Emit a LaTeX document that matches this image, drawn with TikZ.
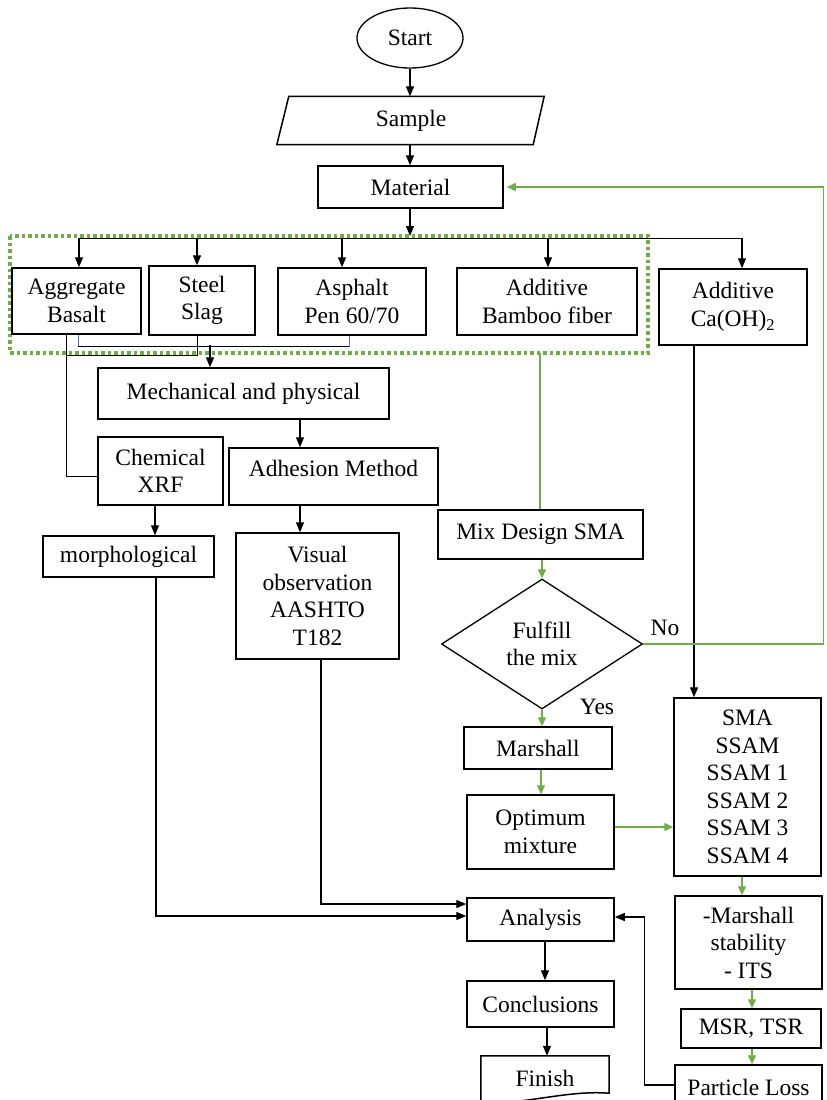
\documentclass[tikz,border=0pt]{standalone}
\usepackage{fontspec}
\setmainfont{Liberation Serif}
\usetikzlibrary{arrows.meta,shapes.geometric,calc}
\definecolor{xgreen}{HTML}{70AD47}
\definecolor{xblue}{HTML}{4472C4}
\begin{document}
\begin{tikzpicture}[x=1pt,y=-1pt,
 every node/.style={font=\fontsize{23.5}{27.5}\selectfont},
 box/.style={draw,line width=1.5pt,inner sep=0pt,align=center,anchor=center},
 conn/.style={line width=1.3pt,-{Triangle[length=10pt,width=8pt]}},
 gconn/.style={xgreen,line width=1.3pt,-{Triangle[length=9pt,width=8pt]}},
 gline/.style={xgreen,line width=1.2pt},
 thinl/.style={line width=0.9pt},
]
\useasboundingbox (0,0) rectangle (827,1100);

% group frame
\draw[xgreen,line width=3.5pt,dash pattern=on 3.5pt off 3pt] (10,236) rectangle (648,353);

% nodes
\node[draw,ellipse,line width=1.3pt,minimum width=106pt,minimum height=60pt,inner sep=0pt] (start) at (410,38) {Start};
\node[inner sep=0pt,minimum width=256pt,minimum height=48pt] (sample) at (411,120.5) {Sample};
\draw[line width=1.5pt] ($(sample.north west)+(6,0)$) -- ($(sample.north east)+(5,0)$) -- ($(sample.south east)+(-6,0)$) -- ($(sample.south west)+(-6,0)$) -- cycle;
\node[box,minimum width=185pt,minimum height=42pt] (material) at (410.5,187) {Material};

\node[box,minimum width=129pt,minimum height=66pt] (agg) at (76.5,301) {Aggregate\\Basalt};
\node[box,minimum width=106pt,minimum height=69pt] (steel) at (202,300.5) {Steel\\Slag};
\node[box,minimum width=148pt,minimum height=67pt] (asphalt) at (352,301.5) {Asphalt\\Pen 60/70};
\node[box,minimum width=180pt,minimum height=67pt] (bamboo) at (547,301.5) {Additive\\Bamboo fiber};
\node[box,minimum width=148pt,minimum height=76pt] (caoh) at (733,307) {Additive\\Ca(OH)\textsubscript{2}};

\node[box,minimum width=291pt,minimum height=51pt] (mech) at (243.5,393.5) {Mechanical and physical};
\node[box,minimum width=125pt,minimum height=68pt] (chem) at (160.5,471) {Chemical\\XRF};
\node[box,minimum width=209pt,minimum height=57pt,text height=16pt,text depth=16pt] (adh) at (333.5,476.5) {Adhesion Method};
\node[box,minimum width=171pt,minimum height=41pt] (morph) at (128.5,556.5) {morphological};
\node[box,minimum width=163pt,minimum height=126pt] (visual) at (317.5,596) {Visual\\observation\\AASHTO\\T182};

\node[box,minimum width=205pt,minimum height=49pt] (mix) at (540.5,534.5) {Mix Design SMA};
\node[draw,diamond,line width=1.3pt,minimum width=201pt,minimum height=130pt,inner sep=0pt,align=center,aspect=1.55] (dec) at (542,644) {Fulfill\\the mix};
\node (no) at (665,628) {No};
\node (yes) at (597,707) {Yes};
\node[box,minimum width=148pt,minimum height=42pt] (marshall) at (538,748) {Marshall};
\node[box,minimum width=147pt,minimum height=74pt] (optimum) at (540.5,832) {Optimum\\mixture};
\node[box,minimum width=147pt,minimum height=178pt] (sma) at (747.5,787) {SMA\\SSAM\\SSAM 1\\SSAM 2\\SSAM 3\\SSAM 4};
\node[box,minimum width=147pt,minimum height=93pt] (marshstab) at (748.5,942.5) {-Marshall\\stability\\- ITS};
\node[box,minimum width=140pt,minimum height=39pt] (msr) at (751,1028.5) {MSR, TSR};
\node[box,minimum width=147pt,minimum height=45pt] (particle) at (748.5,1087.5) {Particle Loss};

\node[box,minimum width=147pt,minimum height=43pt] (analysis) at (540.5,919.5) {Analysis};
\node[box,minimum width=147pt,minimum height=46pt] (concl) at (540.5,1004) {Conclusions};
\node[inner sep=0pt,minimum width=128pt,minimum height=44pt] (finish) at (545,1078) {Finish};
\draw[line width=1.5pt] ($(finish.south west)+(0,4)$) -- (finish.north west) -- (finish.north east) -- ($(finish.south east)+(0,-7)$) .. controls ($(finish.south east)+(-40,-10)$) and ($(finish.south)+(-10,2)$) .. ($(finish.south west)+(0,4)$);

% black connectors
\draw[conn] (start) -- (start |- sample.north);
\draw[conn] ($(sample.south)+(-1,0)$) -- ($(material.north)+(-0.5,0)$);
\coordinate (busin) at (410,236);
\draw[conn] ($(material.south)+(-0.5,0)$) -- (busin);
\draw[line width=1.3pt] ($(agg.north)+(2.5,-29)$) -- ($(caoh.north)+(9,-30)$);
\draw[conn] ($(agg.north)+(2.5,-29)$) -- ($(agg.north)+(2.5,0)$);
\draw[conn] ($(steel.north)+(-5,-27)$) -- ($(steel.north)+(-5,0)$);
\draw[conn] ($(asphalt.north)+(-10,-29)$) -- ($(asphalt.north)+(-10,0)$);
\draw[conn] ($(bamboo.north)+(1,-29)$) -- ($(bamboo.north)+(1,0)$);
\draw[conn] ($(caoh.north)+(9,-30)$) -- ($(caoh.north)+(9,0)$);

\draw[thinl] ($(agg.south)+(-10.5,0)$) |- ($(chem.west)+(0,5)$);
\draw[xblue,thinl] ($(agg.south)+(1.5,0)$) -- ($(agg.south)+(1.5,12)$);
\draw[thinl] ($(agg.south)+(1.5,12)$) -- ($(asphalt.south)+(-3,11)$);
\draw[xblue,thinl] ($(asphalt.south)+(-3,0)$) -- ($(asphalt.south)+(-3,11)$);
\draw[thinl] ($(steel.south)+(-5,0)$) |- ($(agg.south)+(-10.5,21)$);
\draw[conn] ($(mech.north)+(-33.5,-22)$) -- ($(mech.north)+(-33.5,0)$);

\draw[conn] ($(mech.south)+(56.5,0)$) -- ($(adh.north)+(-33.5,0)$);
\draw[conn] ($(chem.south)+(-5.5,0)$) -- ($(morph.north)+(26.5,0)$);
\draw[conn] ($(adh.south)+(-33.5,0)$) -- ($(visual.north)+(-17.5,0)$);
\draw[conn] ($(morph.south)+(27.5,0)$) |- ($(analysis.west)+(0,-3.5)$);
\draw[conn] ($(visual.south)+(3.5,0)$) |- ($(analysis.west)+(0,-15.5)$);
\draw[conn] ($(analysis.south)+(4.5,0)$) -- ($(concl.north)+(4.5,0)$);
\draw[conn] ($(concl.south)+(6.5,0)$) -- ($(finish.north)+(2,0)$);
\draw[conn] ($(particle.west)+(0,-2.5)$) -- ($(particle.west)+(-30,-2.5)$) |- ($(analysis.east)+(0,-2.5)$);
\draw[conn] ($(caoh.south)+(-39,0)$) -- ($(sma.north)+(-53.5,0)$);

% green connectors
\coordinate (gtap) at (540,353);
\draw[gline] (gtap) -- ($(mix.north)+(-0.5,0)$);
\draw[gconn] ($(mix.south)+(1.5,0)$) -- (dec.north);
\draw[gconn] (dec.south) -- ($(marshall.north)+(4,0)$);
\draw[gconn] ($(marshall.south)+(3,0)$) -- ($(optimum.north)+(0.5,0)$);
\draw[gconn] ($(optimum.east)+(0,-5)$) -- ($(sma.west)+(0,40)$);
\draw[gconn] (dec.east) -- ($(dec.east)+(180,0)$) |- ($(material.east)+(3,0)$);
\draw[gconn] ($(sma.south)+(-5.5,0)$) -- ($(marshstab.north)+(-6.5,0)$);
\draw[gconn] ($(marshstab.south)+(3.5,0)$) -- ($(msr.north)+(1,0)$);
\draw[gconn] ($(msr.south)+(1,0)$) -- ($(particle.north)+(3.5,0)$);
\end{tikzpicture}
\end{document}
